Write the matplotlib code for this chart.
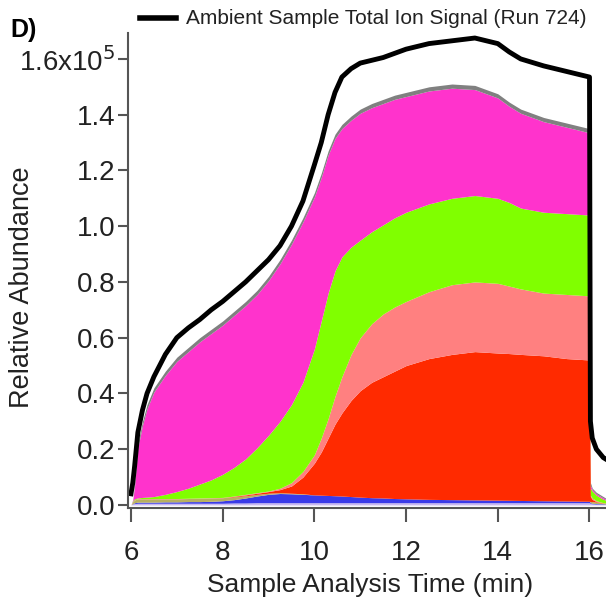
import matplotlib
matplotlib.use("Agg")
import matplotlib.pyplot as plt
from matplotlib.ticker import FixedLocator, FixedFormatter

plt.rcParams['font.family'] = ['Liberation Sans', 'DejaVu Sans']

# time axis (min) and cumulative layer tops (x1e5)
t = [6.0, 6.04, 6.08, 6.15, 6.25, 6.35, 6.5, 6.75, 7.0, 7.25,
     7.5, 7.75, 8.0, 8.25, 8.5, 8.75, 9.0, 9.25, 9.5, 9.75,
     10.0, 10.15, 10.3, 10.45, 10.6, 10.8, 11.0, 11.25, 11.5, 11.75,
     12.0, 12.5, 13.0, 13.5, 14.0, 14.25, 14.5, 15.0, 15.5, 16.0,
     16.02, 16.06, 16.15, 16.3, 16.4]

lavender_top = [0.0, 0.004, 0.005, 0.006, 0.006, 0.006, 0.006, 0.006, 0.006, 0.006,
                0.006, 0.006, 0.006, 0.007, 0.007, 0.008, 0.008, 0.008, 0.008, 0.008,
                0.008, 0.008, 0.008, 0.008, 0.008, 0.008, 0.008, 0.008, 0.008, 0.008,
                0.008, 0.008, 0.008, 0.008, 0.008, 0.008, 0.008, 0.008, 0.008, 0.008,
                0.005, 0.004, 0.003, 0.002, 0.002]
blue_top = [0.0, 0.005, 0.008, 0.01, 0.01, 0.01, 0.01, 0.011, 0.011, 0.012,
            0.012, 0.013, 0.015, 0.019, 0.025, 0.032, 0.038, 0.041, 0.04, 0.038,
            0.036, 0.035, 0.034, 0.033, 0.032, 0.03, 0.028, 0.026, 0.025, 0.023,
            0.022, 0.02, 0.019, 0.018, 0.017, 0.0165, 0.016, 0.015, 0.014, 0.013,
            0.008, 0.006, 0.005, 0.004, 0.003]
olive_top = [0.0, 0.012, 0.018, 0.022, 0.022, 0.022, 0.022, 0.022, 0.022, 0.023,
             0.024, 0.025, 0.026, 0.029, 0.033, 0.038, 0.042, 0.044, 0.042, 0.04,
             0.036, 0.035, 0.034, 0.033, 0.032, 0.03, 0.028, 0.026, 0.025, 0.023,
             0.022, 0.02, 0.019, 0.018, 0.017, 0.0165, 0.016, 0.015, 0.014, 0.013,
             0.012, 0.012, 0.01, 0.006, 0.004]
red_top = [0.0, 0.012, 0.018, 0.022, 0.022, 0.022, 0.022, 0.022, 0.022, 0.023,
           0.024, 0.025, 0.026, 0.031, 0.036, 0.042, 0.048, 0.055, 0.068, 0.10,
           0.15, 0.19, 0.24, 0.29, 0.33, 0.375, 0.41, 0.44, 0.46, 0.48,
           0.50, 0.525, 0.54, 0.55, 0.545, 0.543, 0.54, 0.535, 0.525, 0.52,
           0.03, 0.02, 0.012, 0.007, 0.005]
salmon_top = [0.0, 0.013, 0.019, 0.023, 0.023, 0.023, 0.023, 0.023, 0.023, 0.024,
              0.025, 0.026, 0.027, 0.032, 0.038, 0.044, 0.05, 0.06, 0.08, 0.12,
              0.18, 0.24, 0.31, 0.39, 0.46, 0.54, 0.60, 0.65, 0.685, 0.71,
              0.73, 0.765, 0.79, 0.80, 0.795, 0.785, 0.775, 0.76, 0.755, 0.75,
              0.035, 0.025, 0.015, 0.008, 0.006]
green_top = [0.0, 0.015, 0.022, 0.025, 0.027, 0.028, 0.03, 0.038, 0.048, 0.06,
             0.075, 0.09, 0.11, 0.135, 0.165, 0.205, 0.25, 0.30, 0.36, 0.44,
             0.56, 0.66, 0.76, 0.84, 0.89, 0.925, 0.95, 0.98, 1.005, 1.03,
             1.05, 1.08, 1.10, 1.11, 1.10, 1.085, 1.065, 1.05, 1.045, 1.04,
             0.06, 0.05, 0.035, 0.02, 0.015]
magenta_top = [0.0, 0.018, 0.07, 0.205, 0.285, 0.345, 0.405, 0.465, 0.515, 0.55,
               0.585, 0.615, 0.645, 0.68, 0.715, 0.755, 0.805, 0.865, 0.935, 1.015,
               1.105, 1.175, 1.255, 1.315, 1.35, 1.38, 1.405, 1.425, 1.44, 1.455,
               1.465, 1.485, 1.495, 1.49, 1.46, 1.43, 1.405, 1.375, 1.355, 1.335,
               0.07, 0.055, 0.04, 0.025, 0.017]
gray_top = [0.0, 0.02, 0.08, 0.22, 0.30, 0.36, 0.42, 0.48, 0.53, 0.565,
            0.60, 0.63, 0.66, 0.695, 0.73, 0.77, 0.82, 0.88, 0.95, 1.03,
            1.12, 1.19, 1.27, 1.33, 1.365, 1.395, 1.42, 1.44, 1.455, 1.47,
            1.48, 1.50, 1.51, 1.505, 1.475, 1.445, 1.42, 1.39, 1.37, 1.35,
            0.08, 0.06, 0.045, 0.03, 0.02]
total_ion = [0.04, 0.08, 0.14, 0.26, 0.34, 0.40, 0.46, 0.54, 0.60, 0.635,
             0.665, 0.70, 0.73, 0.765, 0.80, 0.84, 0.88, 0.93, 1.00, 1.09,
             1.22, 1.30, 1.40, 1.48, 1.535, 1.565, 1.585, 1.595, 1.605, 1.62,
             1.635, 1.655, 1.665, 1.675, 1.655, 1.625, 1.60, 1.575, 1.555, 1.535,
             0.30, 0.24, 0.20, 0.17, 0.16]

layers = [lavender_top, blue_top, olive_top, red_top, salmon_top, green_top, magenta_top, gray_top]
colors = ['#C8B8F0', '#3A3AE8', '#B8B060', '#FF2A00', '#FF8080', '#80FF00', '#FF33CC', '#808080']

ytick_vals = [0.0, 0.2, 0.4, 0.6, 0.8, 1.0, 1.2, 1.4, 1.6]
ytick_labels = ['0.0', '0.2', '0.4', '0.6', '0.8', '1.0', '1.2', '1.4', r'1.6x10$^{5}$']
xtick_vals = [6, 8, 10, 12, 14, 16]

fig = plt.figure(figsize=(6.06, 6.03), dpi=100)
ax = fig.add_axes([128 / 606, 95 / 603, 478 / 606, 475 / 603])

base = [0.0] * len(t)
for top, c in zip(layers, colors):
    ax.fill_between(t, base, top, color=c, linewidth=0)
    base = top

ax.plot(t, total_ion, color='black', lw=3.5, solid_joinstyle='round')

ax.set_xlim(5.935, 16.36)
ax.set_ylim(-0.011, 1.693)

for side in ['top', 'right']:
    ax.spines[side].set_visible(False)
for side in ['left', 'bottom']:
    ax.spines[side].set_color('#555555')
    ax.spines[side].set_linewidth(1.5)

ax.yaxis.set_major_locator(FixedLocator(ytick_vals))
ax.yaxis.set_major_formatter(FixedFormatter(ytick_labels))
ax.set_xticks(xtick_vals)
ax.tick_params(axis='y', length=7, width=1.5, color='#555555', pad=2, labelsize=20, labelcolor='#222222')
ax.tick_params(axis='x', length=10, width=1.5, color='#555555', pad=13, labelsize=20, labelcolor='#222222')

fig.text(370 / 606, 1 - 585 / 603, 'Sample Analysis Time (min)', fontsize=19,
         color='#222222', ha='center', va='center')
fig.text(22 / 606, 1 - 287 / 603, 'Relative Abundance', fontsize=19.5,
         color='#222222', ha='center', va='center', rotation=90)

# legend drawn by hand at the top
fig.lines.append(plt.Line2D([140 / 606, 176 / 606], [1 - 18 / 603, 1 - 18 / 603],
                            transform=fig.transFigure, color='black', lw=4))
fig.text(186 / 606, 1 - 18 / 603, 'Ambient Sample Total Ion Signal (Run 724)', fontsize=15,
         color='#222222', ha='left', va='center')
fig.text(10 / 606, 1 - 30 / 603, 'D)', fontsize=18, fontweight='bold', ha='left', va='center')

fig.savefig('out.png', dpi=100)
